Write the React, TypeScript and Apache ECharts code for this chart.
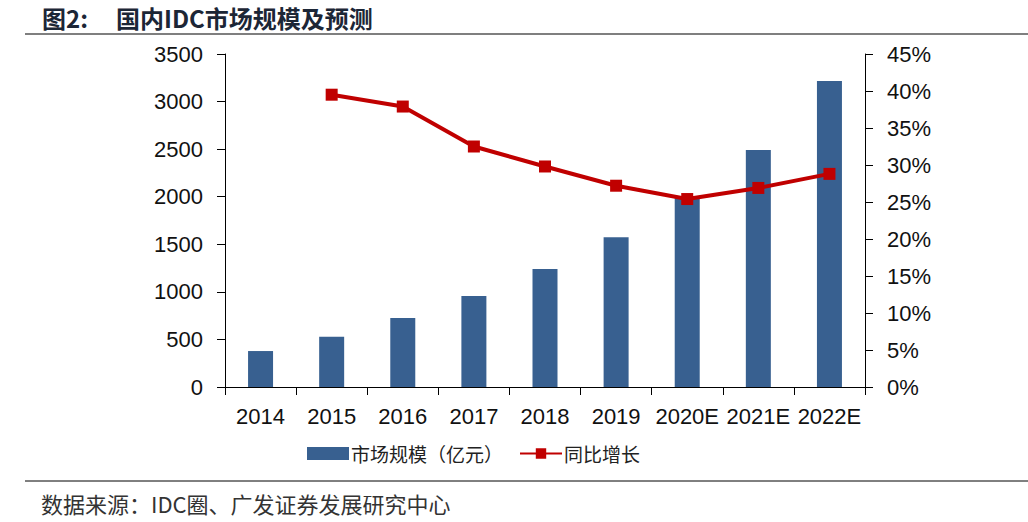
import React, { useEffect, useRef } from "react";
import * as echarts from "echarts";

const categories = ["2014", "2015", "2016", "2017", "2018", "2019", "2020E", "2021E", "2022E"];
const marketSize = [378, 529, 725, 957, 1241, 1575, 1987, 2492, 3217];
const growth = [null, 39.5, 37.9, 32.5, 29.8, 27.2, 25.4, 26.9, 28.8];
const leftTicks = { min: 0, max: 3500, interval: 500 };
const rightTicks = { min: 0, max: 45, interval: 5 };

const LATIN = "'Liberation Sans', Arial, 'Noto Sans CJK SC', sans-serif";
const CJK = "'Noto Sans CJK SC', 'Liberation Sans', sans-serif";

export default function App() {
  const ref = useRef<HTMLDivElement>(null);
  useEffect(() => {
    if (!ref.current) return;
    const chart = echarts.init(ref.current, null, { renderer: "svg" });
    chart.setOption({
      animation: false,
      backgroundColor: "#ffffff",
      graphic: [
        {
          type: "text",
          x: 42,
          y: 17,
          style: {
            text: "图2:",
            font: `bold 24px ${CJK}`,
            fill: "#1c2636",
            verticalAlign: "middle",
            lineHeight: 26,
          },
        },
        {
          type: "text",
          x: 116,
          y: 17,
          style: {
            text: "国内IDC市场规模及预测",
            font: `bold 24px ${CJK}`,
            fill: "#1c2636",
            verticalAlign: "middle",
            lineHeight: 26,
          },
        },
        { type: "line", shape: { x1: 25, y1: 34, x2: 1028, y2: 34 }, style: { stroke: "#000", lineWidth: 1.2 } },
        { type: "line", shape: { x1: 25, y1: 481, x2: 1028, y2: 481 }, style: { stroke: "#000", lineWidth: 1 } },
        {
          type: "text",
          x: 41,
          y: 503,
          style: {
            text: "数据来源：IDC圈、广发证券发展研究中心",
            font: `22px ${CJK}`,
            fill: "#333",
            verticalAlign: "middle",
            lineHeight: 24,
          },
        },
      ],
      legend: {
        top: 439,
        left: 302,
        itemWidth: 42,
        itemHeight: 13,
        itemGap: 16,
        textStyle: { fontFamily: CJK, fontSize: 19, color: "#222", padding: [0, 0, 0, -3] },
        data: [
          { name: "市场规模（亿元）", icon: "rect" },
          { name: "同比增长" },
        ],
      },
      grid: { left: 225, right: 163, top: 54, bottom: 135, containLabel: false },
      xAxis: {
        type: "category",
        data: categories,
        axisLine: { lineStyle: { color: "#000", width: 1 } },
        axisTick: { show: true, length: 8, lineStyle: { color: "#000" } },
        axisLabel: { fontFamily: LATIN, fontSize: 22, color: "#111", margin: 18, interval: 0 },
      },
      yAxis: [
        {
          type: "value",
          ...leftTicks,
          axisLine: { show: true, lineStyle: { color: "#000" } },
          axisTick: { show: true, length: 8, lineStyle: { color: "#000" } },
          splitLine: { show: false },
          axisLabel: {
            fontFamily: LATIN,
            fontSize: 22,
            color: "#111",
            margin: 22,
            formatter: (v: number) => String(v),
          },
        },
        {
          type: "value",
          ...rightTicks,
          position: "right",
          axisLine: { show: true, lineStyle: { color: "#000" } },
          axisTick: { show: true, length: 8, lineStyle: { color: "#000" } },
          splitLine: { show: false },
          axisLabel: { fontFamily: LATIN, fontSize: 22, color: "#111", margin: 22, formatter: "{value}%" },
        },
      ],
      series: [
        {
          name: "市场规模（亿元）",
          type: "bar",
          data: marketSize,
          barWidth: 25,
          itemStyle: { color: "#386090" },
          yAxisIndex: 0,
        },
        {
          name: "同比增长",
          type: "line",
          data: growth,
          yAxisIndex: 1,
          symbol: "rect",
          symbolSize: 12,
          lineStyle: { color: "#C00000", width: 4 },
          itemStyle: { color: "#C00000" },
        },
      ],
    });
    return () => chart.dispose();
  }, []);
  return <div ref={ref} style={{ position: "absolute", left: 0, top: 0, width: 1028, height: 522 }} />;
}
